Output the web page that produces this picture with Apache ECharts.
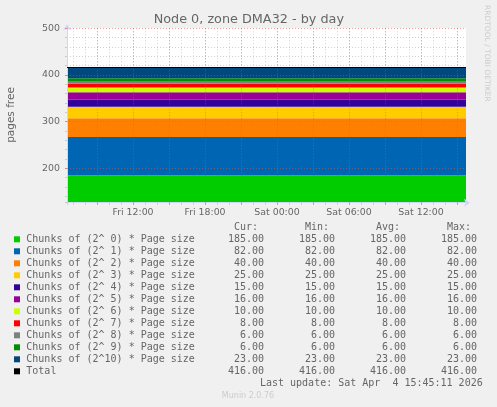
<!DOCTYPE html>
<html>
<head>
<meta charset="utf-8">
<script src="https://cdn.jsdelivr.net/npm/echarts@6/dist/echarts.min.js"></script>
<style>
html,body{margin:0;padding:0;background:#F0F0F0;}
#chart{width:497px;height:407px;}
</style>
</head>
<body>
<div id="chart"></div>
<script>
// ---- data ----
const seriesNames = [
  'Chunks of (2^ 0) * Page size',
  'Chunks of (2^ 1) * Page size',
  'Chunks of (2^ 2) * Page size',
  'Chunks of (2^ 3) * Page size',
  'Chunks of (2^ 4) * Page size',
  'Chunks of (2^ 5) * Page size',
  'Chunks of (2^ 6) * Page size',
  'Chunks of (2^ 7) * Page size',
  'Chunks of (2^ 8) * Page size',
  'Chunks of (2^ 9) * Page size',
  'Chunks of (2^10) * Page size'
];
const curValues = [185, 82, 40, 25, 15, 16, 10, 8, 6, 6, 23];
const minValues = [185, 82, 40, 25, 15, 16, 10, 8, 6, 6, 23];
const avgValues = [185, 82, 40, 25, 15, 16, 10, 8, 6, 6, 23];
const maxValues = [185, 82, 40, 25, 15, 16, 10, 8, 6, 6, 23];
const totalName = 'Total';
const totalStats = [416, 416, 416, 416]; // cur, min, avg, max
const seriesColors = ['#00CC00','#0066B3','#FF8000','#FFCC00','#330099','#990099','#CCFF00','#FF0000','#808080','#008F00','#00487D'];
const totalColor = '#000000';
const timeSpan = ['2026-04-03T06:30:00', '2026-04-04T15:45:00'];
const dayStart = '2026-04-03T00:00:00';
const dayNames = ['Fri', 'Sat'];
const xLabelHours = [12, 18, 24, 30, 36];
const yLabelValues = [200, 300, 400, 500];
const statHeaders = ['Cur:', 'Min:', 'Avg:', 'Max:'];
const titleText = 'Node 0, zone DMA32 - by day';
const yAxisTitle = 'pages free';
const lastUpdate = 'Last update: Sat Apr  4 15:45:11 2026';
const footer = 'Munin 2.0.76';
const sideText = 'RRDTOOL / TOBI OETIKER';

// ---- chart ----
const chart = echarts.init(document.getElementById('chart'), null, {renderer: 'canvas'});
const FONT = '#666666';
const AXIS = '#CFD6F8';
const GRID = 'rgba(150,150,150,0.42)';
const MGRID = 'rgba(230,80,80,0.5)';
const Y_MIN = 126.3, Y_MAX = 500;

const tMs = timeSpan.map(s => new Date(s).getTime());
const dayMs = new Date(dayStart).getTime();
const hourSpan = tMs.map(t => (t - dayMs) / 3600000);

const series = seriesNames.map((name, i) => ({
  name: name,
  type: 'line',
  stack: 'all',
  xAxisIndex: 2,
  yAxisIndex: 0,
  symbol: 'none',
  silent: true,
  animation: false,
  lineStyle: {width: 0},
  itemStyle: {color: seriesColors[i]},
  areaStyle: {color: seriesColors[i], opacity: 1},
  data: tMs.map(t => [t, curValues[i]])
}));
series.push({
  name: totalName,
  type: 'line',
  xAxisIndex: 2,
  yAxisIndex: 0,
  symbol: 'none',
  silent: true,
  animation: false,
  z: 5,
  lineStyle: {width: 1, color: totalColor},
  data: tMs.map(t => [t, totalStats[0]])
});

function xLabel(v) {
  const h = Math.round(v * 100) / 100;
  if (xLabelHours.indexOf(h) < 0) return '';
  const day = dayNames[Math.floor(h / 24)];
  const hh = h % 24;
  return day + ' ' + (hh < 10 ? '0' : '') + hh + ':00';
}
function yLabel(v) {
  return yLabelValues.indexOf(Math.round(v * 100) / 100) >= 0 ? String(Math.round(v)) : '';
}

// legend / table graphics
const graphics = [];
const monoFont = '10px "DejaVu Sans Mono"';
const colRight = [264, 335, 406, 477];
const rowY0 = 239.3, rowStep = 12;
function txt(text, x, y, font, fill, align) {
  return {type: 'text', silent: true, style: {text: text, x: x, y: y, font: font, fill: fill, align: align, textAlign: align, verticalAlign: 'middle', textVerticalAlign: 'middle'}};
}
statHeaders.forEach((h, j) => graphics.push(txt(h, colRight[j] - 6, 227.7, monoFont, FONT, 'right')));
const allNames = seriesNames.concat([totalName]);
const allColors = seriesColors.concat([totalColor]);
allNames.forEach((name, i) => {
  const y = rowY0 + i * rowStep;
  graphics.push({type: 'rect', silent: true, shape: {x: 14, y: y - 3, width: 6, height: 6}, style: {fill: allColors[i]}});
  graphics.push(txt(name, 26.3, y, monoFont, FONT, 'left'));
  const stats = i < seriesNames.length ? [curValues[i], minValues[i], avgValues[i], maxValues[i]] : totalStats;
  stats.forEach((s, j) => graphics.push(txt(s.toFixed(2), colRight[j], y, monoFont, FONT, 'right')));
});
graphics.push(txt(lastUpdate, 482.7, 383.3, monoFont, FONT, 'right'));
graphics.push(txt(footer, 248, 396, '8px "DejaVu Sans"', '#CCCCCC', 'center'));
graphics.push(txt(titleText, 248.8, 19.5, '12.8px "DejaVu Sans"', FONT, 'center'));
const yt = txt(yAxisTitle, 0, 0, '10.5px "DejaVu Sans"', FONT, 'center');
yt.x = 11; yt.y = 115; yt.rotation = Math.PI / 2;
graphics.push(yt);
const st = txt(sideText, 0, 0, '7.5px "DejaVu Sans"', '#CCCCCC', 'center');
st.x = 487.3; st.y = 53.3; st.rotation = -Math.PI / 2;
graphics.push(st);

const option = {
  backgroundColor: '#F0F0F0',
  animation: false,
  grid: {left: 67, right: 31, top: 28.3, bottom: 204.3, show: true, backgroundColor: '#FFFFFF', borderWidth: 0, containLabel: false},
  xAxis: [
    {
      type: 'value', position: 'bottom', min: hourSpan[0], max: hourSpan[1],
      minInterval: 1, maxInterval: 1, z: 3,
      axisLine: {show: true, lineStyle: {color: AXIS, width: 1}, symbol: ['none', 'arrow'], symbolSize: [6, 6], symbolOffset: [0, 4]},
      axisTick: {show: true, length: 2, inside: false, lineStyle: {color: GRID}},
      axisLabel: {show: false},
      splitLine: {show: true, showMinLine: false, showMaxLine: false, lineStyle: {color: GRID, type: [1, 2], width: 1}}
    },
    {
      type: 'value', position: 'bottom', min: hourSpan[0], max: hourSpan[1],
      minInterval: 3, maxInterval: 3, z: 4,
      axisLine: {show: false},
      axisTick: {show: true, length: 2, lineStyle: {color: MGRID}},
      axisLabel: {show: true, formatter: xLabel, color: FONT, fontFamily: 'DejaVu Sans', fontSize: 9.4, margin: 5, showMinLabel: false, showMaxLabel: false, hideOverlap: false},
      splitLine: {show: true, showMinLine: false, showMaxLine: false, lineStyle: {color: MGRID, type: [1, 2], width: 1}}
    },
    {
      type: 'time', position: 'bottom', min: tMs[0], max: tMs[1], show: false,
      splitLine: {show: false}
    }
  ],
  yAxis: [
    {
      type: 'value', position: 'left', min: Y_MIN, max: Y_MAX,
      minInterval: 20, maxInterval: 20, z: 3,
      axisLine: {show: true, lineStyle: {color: AXIS, width: 1}, symbol: ['none', 'arrow'], symbolSize: [6, 6], symbolOffset: [0, 4]},
      axisTick: {show: true, length: 2, lineStyle: {color: GRID}},
      axisLabel: {show: false},
      splitLine: {show: true, showMinLine: false, showMaxLine: false, lineStyle: {color: GRID, type: [1, 2], width: 1}}
    },
    {
      type: 'value', position: 'left', min: Y_MIN, max: Y_MAX,
      minInterval: 100, maxInterval: 100, z: 4,
      axisLine: {show: false},
      axisTick: {show: true, length: 2, lineStyle: {color: MGRID}},
      axisLabel: {show: true, formatter: yLabel, color: FONT, fontFamily: 'DejaVu Sans', fontSize: 9.4, margin: 7, showMinLabel: false, hideOverlap: false},
      splitLine: {show: true, showMinLine: false, showMaxLine: true, lineStyle: {color: MGRID, type: [1, 2], width: 1}}
    }
  ],
  graphic: graphics,
  series: series
};
chart.setOption(option);
</script>
</body>
</html>
